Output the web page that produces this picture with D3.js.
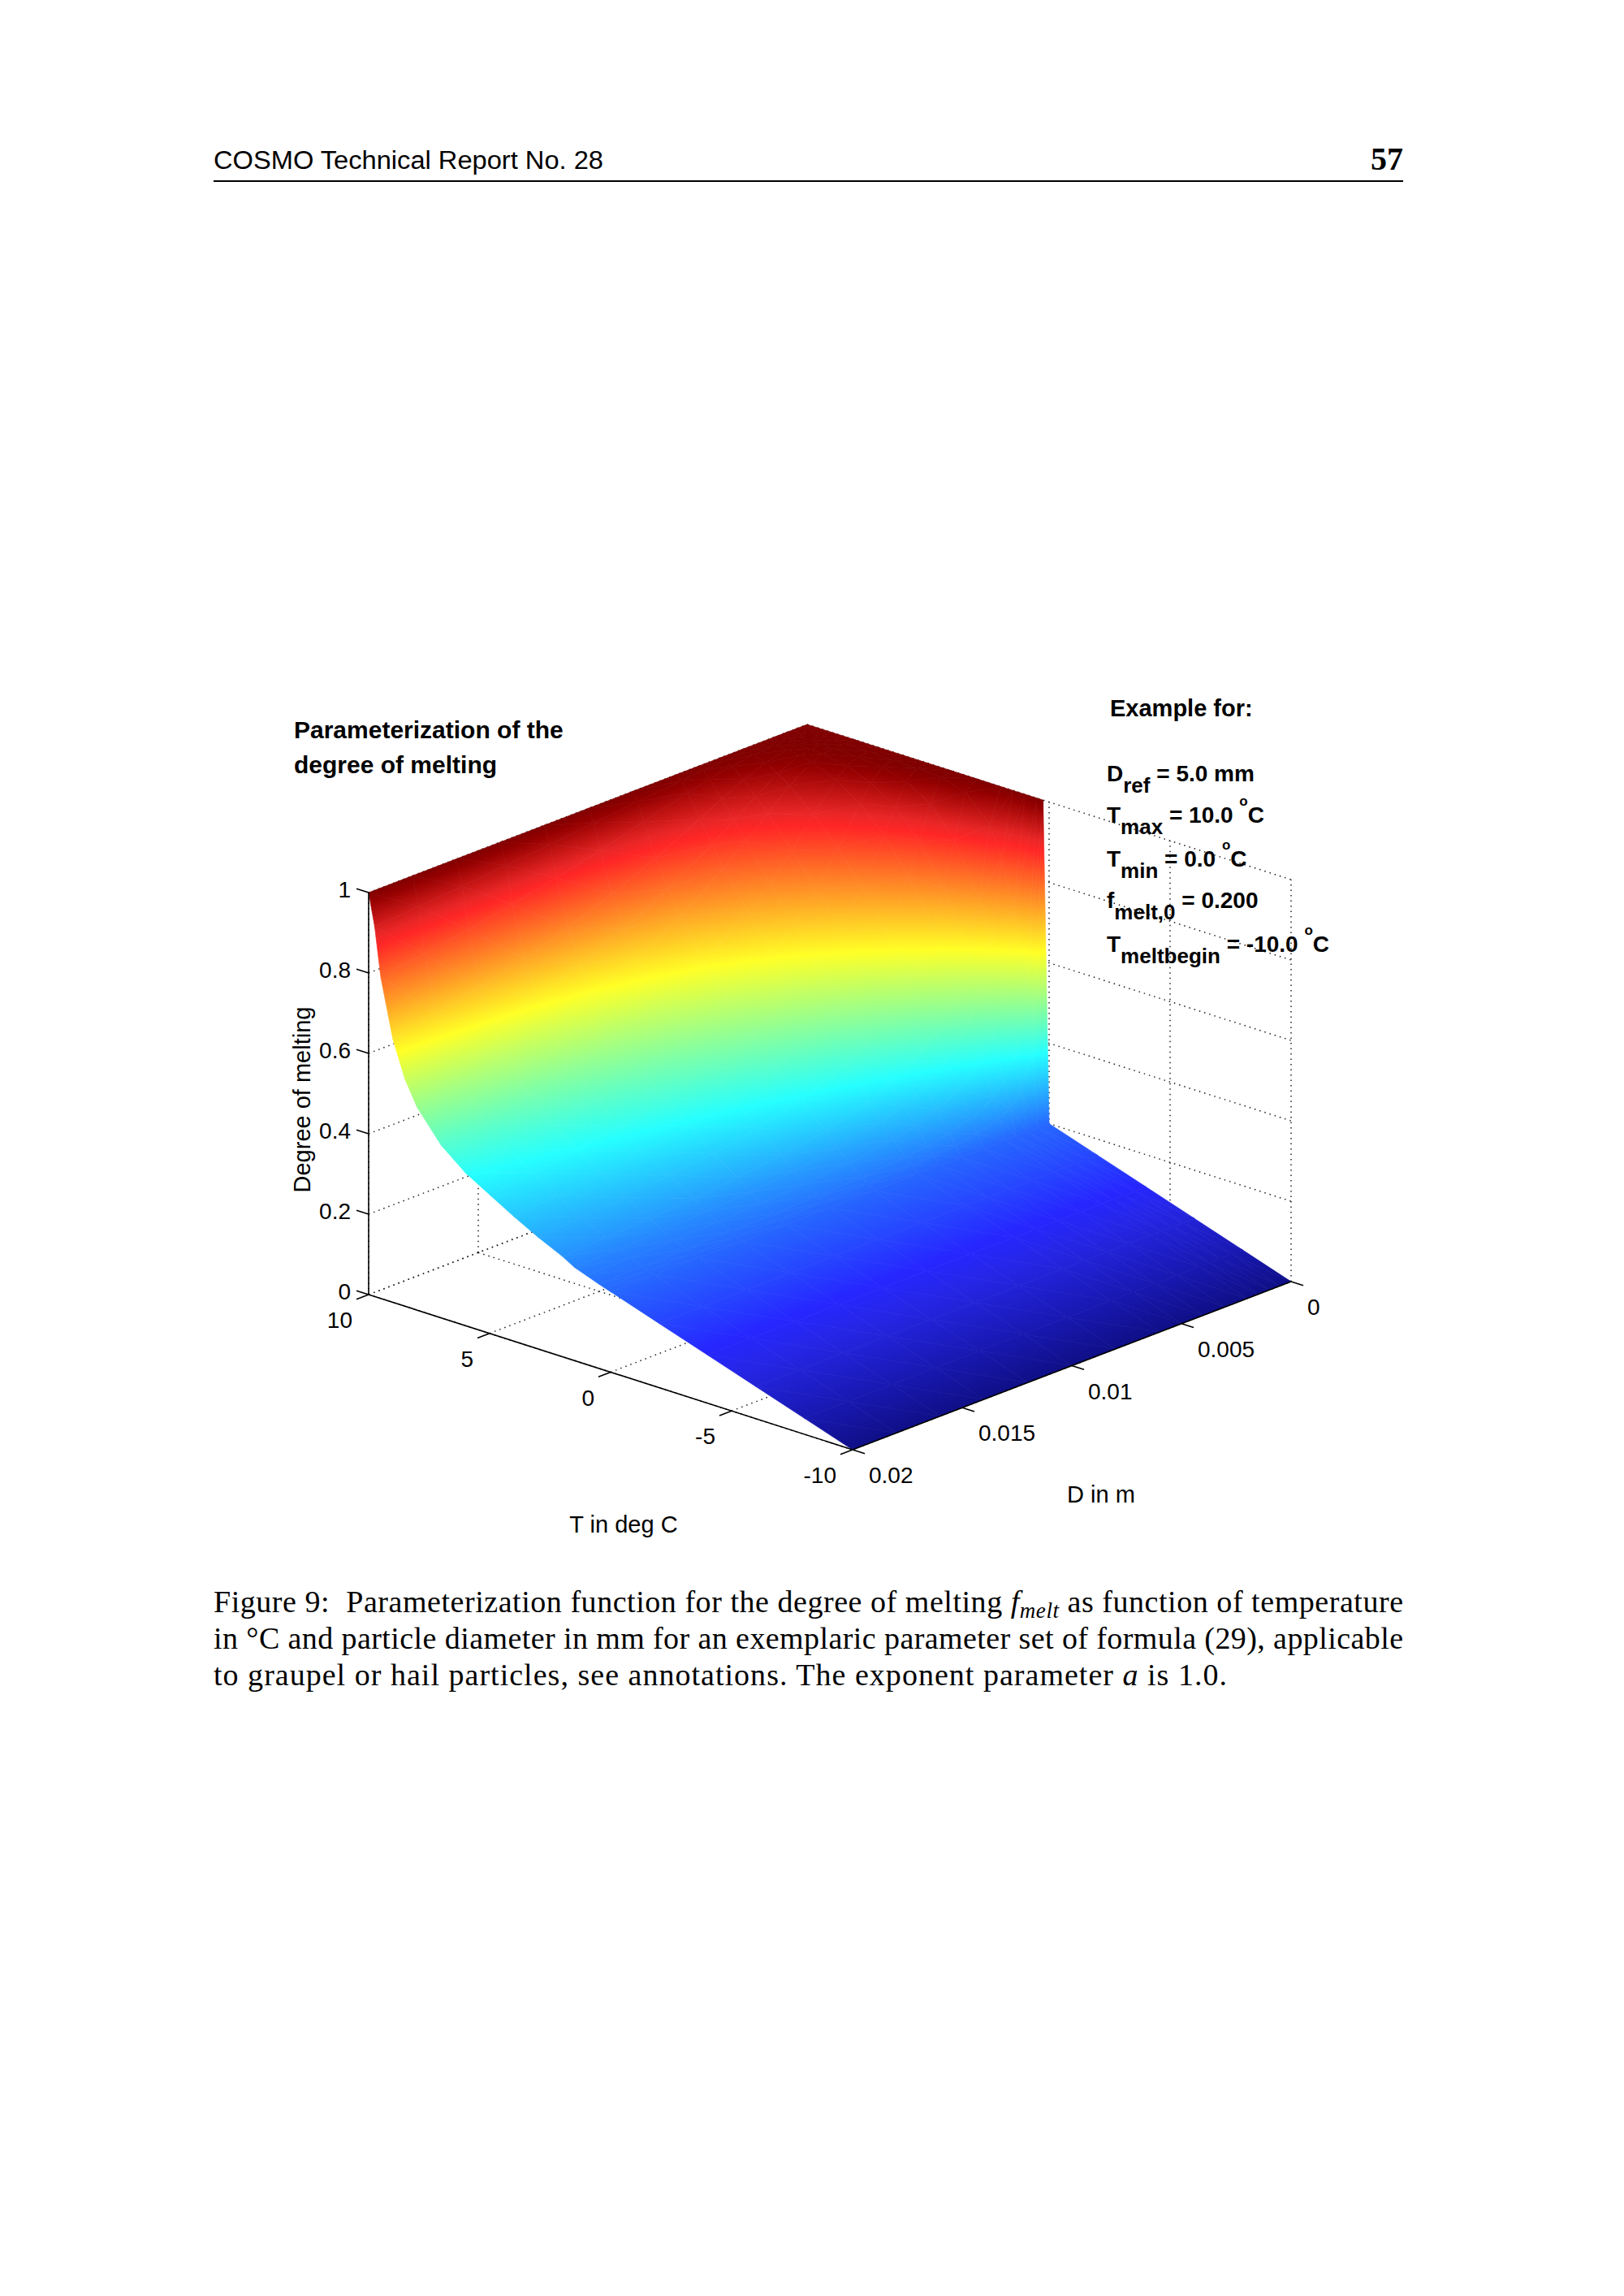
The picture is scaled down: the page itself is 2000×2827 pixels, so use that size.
<!DOCTYPE html>
<html lang="en">
<head>
<meta charset="UTF-8">
<title>Degree of melting</title>
<style>
  body { margin: 0; background: #fff; }
  svg text { font-family: "Liberation Sans", Arial, sans-serif; fill: #000; white-space: pre; }
  .grid line { stroke: #222; stroke-width: 1.5; stroke-dasharray: 1.5 5; }
  .axis line { stroke: #000; stroke-width: 1.6; }
  .tick { font-size: 28px; }
  .serif { font-family: "Liberation Serif", "DejaVu Serif", serif; }
</style>
</head>
<body>
<svg width="2000" height="2827"></svg>
<script src="https://d3js.org/d3.v7.min.js"></script>
<script>
// ---- data ----
const tempC = [-10, -8, -6, -4, -2, 0, 0.25, 0.5, 1, 1.5, 2, 3, 4, 5, 6, 7, 8, 8.5, 9, 9.5, 9.75, 10];
const diamM = [0, 0.0005, 0.001, 0.0015, 0.002, 0.003, 0.004, 0.005, 0.006, 0.008, 0.01, 0.012, 0.014, 0.016, 0.018, 0.02];
// degree of melting, one row per tempC value, one column per diamM value
const meltDeg = [
  [0, 0, 0, 0, 0, 0, 0, 0, 0, 0, 0, 0, 0, 0, 0, 0],
  [0.04, 0.04, 0.04, 0.04, 0.04, 0.04, 0.04, 0.04, 0.04, 0.04, 0.04, 0.04, 0.04, 0.04, 0.04, 0.04],
  [0.08, 0.08, 0.08, 0.08, 0.08, 0.08, 0.08, 0.08, 0.08, 0.08, 0.08, 0.08, 0.08, 0.08, 0.08, 0.08],
  [0.12, 0.12, 0.12, 0.12, 0.12, 0.12, 0.12, 0.12, 0.12, 0.12, 0.12, 0.12, 0.12, 0.12, 0.12, 0.12],
  [0.16, 0.16, 0.16, 0.16, 0.16, 0.16, 0.16, 0.16, 0.16, 0.16, 0.16, 0.16, 0.16, 0.16, 0.16, 0.16],
  [0.2, 0.2, 0.2, 0.2, 0.2, 0.2, 0.2, 0.2, 0.2, 0.2, 0.2, 0.2, 0.2, 0.2, 0.2, 0.2],
  [1, 0.379, 0.295, 0.265, 0.249, 0.233, 0.225, 0.220, 0.217, 0.213, 0.210, 0.208, 0.207, 0.206, 0.206, 0.205],
  [1, 0.521, 0.381, 0.326, 0.296, 0.266, 0.250, 0.240, 0.233, 0.225, 0.220, 0.217, 0.215, 0.213, 0.211, 0.210],
  [1, 0.721, 0.528, 0.437, 0.385, 0.329, 0.299, 0.280, 0.267, 0.251, 0.241, 0.234, 0.230, 0.226, 0.223, 0.221],
  [1, 0.842, 0.645, 0.535, 0.467, 0.390, 0.347, 0.320, 0.301, 0.277, 0.262, 0.252, 0.245, 0.240, 0.235, 0.232],
  [1, 0.915, 0.740, 0.623, 0.546, 0.453, 0.401, 0.366, 0.342, 0.310, 0.291, 0.278, 0.268, 0.261, 0.255, 0.250],
  [1, 0.977, 0.868, 0.759, 0.676, 0.565, 0.495, 0.448, 0.414, 0.369, 0.340, 0.319, 0.306, 0.294, 0.285, 0.278],
  [1, 0.995, 0.939, 0.857, 0.781, 0.666, 0.586, 0.530, 0.487, 0.431, 0.392, 0.366, 0.346, 0.332, 0.320, 0.310],
  [1, 0.999, 0.976, 0.923, 0.863, 0.755, 0.673, 0.611, 0.563, 0.495, 0.449, 0.417, 0.392, 0.373, 0.358, 0.345],
  [1, 1, 0.992, 0.963, 0.921, 0.830, 0.752, 0.688, 0.636, 0.560, 0.507, 0.468, 0.437, 0.414, 0.396, 0.380],
  [1, 1, 0.998, 0.986, 0.962, 0.896, 0.828, 0.768, 0.717, 0.636, 0.577, 0.533, 0.498, 0.470, 0.447, 0.429],
  [1, 1, 1, 0.996, 0.987, 0.949, 0.901, 0.852, 0.807, 0.729, 0.669, 0.622, 0.584, 0.552, 0.526, 0.505],
  [1, 1, 1, 0.999, 0.994, 0.970, 0.934, 0.895, 0.856, 0.787, 0.729, 0.683, 0.645, 0.614, 0.588, 0.565],
  [1, 1, 1, 1, 0.998, 0.987, 0.965, 0.939, 0.910, 0.854, 0.806, 0.765, 0.730, 0.701, 0.676, 0.655],
  [1, 1, 1, 1, 1, 0.997, 0.990, 0.979, 0.965, 0.935, 0.905, 0.878, 0.855, 0.834, 0.816, 0.800],
  [1, 1, 1, 1, 1, 1, 0.998, 0.995, 0.991, 0.980, 0.969, 0.957, 0.947, 0.937, 0.928, 0.920],
  [1, 1, 1, 1, 1, 1, 1, 1, 1, 1, 1, 1, 1, 1, 1, 1]
];
const tempTicks = [10, 5, 0, -5, -10];
const diamTicks = [0, 0.005, 0.01, 0.015, 0.02];
const meltTicks = [0, 0.2, 0.4, 0.6, 0.8, 1];
const notes = [
  { main: "D", sub: "ref", rest: " = 5.0 mm", deg: false },
  { main: "T", sub: "max", rest: " = 10.0 ", deg: true },
  { main: "T", sub: "min", rest: " = 0.0 ", deg: true },
  { main: "f", sub: "melt,0", rest: " = 0.200", deg: false },
  { main: "T", sub: "meltbegin", rest: " = -10.0 ", deg: true }
];

const svg = d3.select("svg");

// ---- page header ----
svg.append("text").attr("x", 263).attr("y", 208)
  .attr("font-family", "DejaVu Sans").attr("font-size", 31)
  .attr("textLength", 480).attr("lengthAdjust", "spacingAndGlyphs")
  .text("COSMO Technical Report No. 28");
svg.append("text").attr("class", "serif").attr("x", 1728).attr("y", 209)
  .attr("text-anchor", "end").attr("font-size", 40).attr("font-weight", "bold")
  .text("57");
svg.append("line").attr("x1", 263).attr("x2", 1728).attr("y1", 223).attr("y2", 223)
  .attr("stroke", "#000").attr("stroke-width", 2);

// ---- oblique projection of the 3-D box ----
const origin = { x: 454, y: 1594 };   // T = 10, D = 0.02, f = 0
const tVec = { x: 596, y: 191 };      // T from 10 to -10
const dVec = { x: 540, y: -207 };     // D from 0.02 to 0
const tScale = d3.scaleLinear().domain([10, -10]).range([0, 1]);
const dScale = d3.scaleLinear().domain([0.02, 0]).range([0, 1]);
const zScale = d3.scaleLinear().domain([0, 1]).range([0, 495]);

function project(t, d, z) {
  const a = tScale(t), b = dScale(d);
  return [origin.x + a * tVec.x + b * dVec.x, origin.y + a * tVec.y + b * dVec.y - zScale(z)];
}

// matlab jet; the dense mesh leaves white gaps, so mid values read lighter
function jet(v) {
  const c = x => Math.max(0, Math.min(1, x));
  const r = c(1.5 - Math.abs(4 * v - 3)), g = c(1.5 - Math.abs(4 * v - 2)), b = c(1.5 - Math.abs(4 * v - 1));
  const w = v > 0.9 ? 0.15 * c(1 - (v - 0.9) / 0.08) : v < 0.1 ? 0.06 + 0.9 * v : 0.15;
  return d3.interpolateRgb(d3.rgb(r * 255, g * 255, b * 255), "#fff")(w);
}

// ---- dotted grid on the back planes and floor ----
const grid = svg.append("g").attr("class", "grid");
const segs = [];
tempTicks.forEach(t => {
  segs.push([project(t, 0.02, 0), project(t, 0, 0)]);
  segs.push([project(t, 0, 0), project(t, 0, 1)]);
});
diamTicks.forEach(d => {
  segs.push([project(10, d, 0), project(-10, d, 0)]);
  segs.push([project(10, d, 0), project(10, d, 1)]);
});
meltTicks.forEach(z => {
  segs.push([project(10, 0.02, z), project(10, 0, z)]);
  segs.push([project(10, 0, z), project(-10, 0, z)]);
});
grid.selectAll("line").data(segs).join("line")
  .attr("x1", s => s[0][0]).attr("y1", s => s[0][1])
  .attr("x2", s => s[1][0]).attr("y2", s => s[1][1]);

// ---- surface: triangles sorted back to front, each shaded with a gradient ----
const defs = svg.append("defs");
const tris = [];
for (let i = 0; i < tempC.length - 1; i++) {
  for (let j = 0; j < diamM.length - 1; j++) {
    const depth = project((tempC[i] + tempC[i + 1]) / 2, (diamM[j] + diamM[j + 1]) / 2, 0)[1];
    const c = [[i, j], [i + 1, j], [i + 1, j + 1], [i, j + 1]].map(([a, b]) => ({
      p: project(tempC[a], diamM[b], meltDeg[a][b]), v: meltDeg[a][b]
    }));
    tris.push({ depth, k: 0, c: [c[0], c[1], c[2]] });
    tris.push({ depth, k: 1, c: [c[0], c[2], c[3]] });
  }
}
tris.sort((a, b) => a.depth - b.depth || a.k - b.k);

const breaks = [0.1, 0.125, 0.375, 0.625, 0.875, 0.9, 0.98];
tris.forEach((tr, n) => {
  const [A, B, C] = tr.c;
  const vs = tr.c.map(q => q.v);
  const vmin = d3.min(vs), vmax = d3.max(vs);
  tr.fill = jet(d3.mean(vs));
  if (vmax - vmin < 0.002) return;
  const x1 = B.p[0] - A.p[0], y1 = B.p[1] - A.p[1], x2 = C.p[0] - A.p[0], y2 = C.p[1] - A.p[1];
  const dv1 = B.v - A.v, dv2 = C.v - A.v;
  const det = x1 * y2 - y1 * x2;
  if (Math.abs(det) < 0.01) return;
  const ga = (dv1 * y2 - y1 * dv2) / det, gb = (x1 * dv2 - dv1 * x2) / det;
  const g2 = ga * ga + gb * gb;
  if (g2 < 1e-14) return;
  const at = v => [A.p[0] + (v - A.v) * ga / g2, A.p[1] + (v - A.v) * gb / g2];
  const p1 = at(vmin), p2 = at(vmax);
  const lg = defs.append("linearGradient").attr("id", "s" + n)
    .attr("gradientUnits", "userSpaceOnUse")
    .attr("x1", p1[0]).attr("y1", p1[1]).attr("x2", p2[0]).attr("y2", p2[1]);
  const stops = [vmin, ...breaks.filter(b => b > vmin && b < vmax), vmax];
  stops.forEach(v => lg.append("stop")
    .attr("offset", (v - vmin) / (vmax - vmin)).attr("stop-color", jet(v)));
  tr.fill = `url(#s${n})`;
});

svg.append("g").selectAll("path").data(tris).join("path")
  .attr("d", tr => "M" + tr.c.map(q => q.p.join(",")).join("L") + "Z")
  .attr("fill", tr => tr.fill)
  .attr("stroke", tr => tr.fill)
  .attr("stroke-width", 0.7)
  .attr("stroke-linejoin", "round");

// ---- solid axes with ticks and labels ----
const axis = svg.append("g").attr("class", "axis");
const axisSegs = [
  [project(10, 0.02, 0), project(10, 0.02, 1)],
  [project(10, 0.02, 0), project(-10, 0.02, 0)],
  [project(-10, 0.02, 0), project(-10, 0, 0)]
];
meltTicks.forEach(z => { const p = project(10, 0.02, z); axisSegs.push([p, [p[0] - 15, p[1] - 4.8]]); });
tempTicks.forEach(t => { const p = project(t, 0.02, 0); axisSegs.push([p, [p[0] - 15, p[1] + 5.8]]); });
diamTicks.forEach(d => { const p = project(-10, d, 0); axisSegs.push([p, [p[0] + 15, p[1] + 4.8]]); });
axis.selectAll("line").data(axisSegs).join("line")
  .attr("x1", s => s[0][0]).attr("y1", s => s[0][1])
  .attr("x2", s => s[1][0]).attr("y2", s => s[1][1]);

svg.append("g").selectAll("text").data(meltTicks).join("text").attr("class", "tick")
  .attr("x", z => project(10, 0.02, z)[0] - 22)
  .attr("y", z => project(10, 0.02, z)[1] + 6)
  .attr("text-anchor", "end").text(z => String(z));
svg.append("g").selectAll("text").data(tempTicks).join("text").attr("class", "tick")
  .attr("x", t => project(t, 0.02, 0)[0] - 20)
  .attr("y", t => project(t, 0.02, 0)[1] + 41)
  .attr("text-anchor", "end").text(t => String(t));
svg.append("g").selectAll("text").data(diamTicks).join("text").attr("class", "tick")
  .attr("x", d => project(-10, d, 0)[0] + 20)
  .attr("y", d => project(-10, d, 0)[1] + 41)
  .text(d => String(d));

svg.append("text").attr("x", 768).attr("y", 1887).attr("font-size", 29)
  .attr("text-anchor", "middle").text("T in deg C");
svg.append("text").attr("x", 1356).attr("y", 1850).attr("font-size", 29)
  .attr("text-anchor", "middle").text("D in m");
svg.append("text").attr("transform", "translate(382,1354) rotate(-90)").attr("font-size", 29)
  .attr("text-anchor", "middle").text("Degree of melting");

// ---- titles and parameter notes ----
svg.append("text").attr("x", 362).attr("y", 909).attr("font-size", 30).attr("font-weight", "bold")
  .text("Parameterization of the");
svg.append("text").attr("x", 362).attr("y", 952).attr("font-size", 30).attr("font-weight", "bold")
  .text("degree of melting");
svg.append("text").attr("x", 1367).attr("y", 882).attr("font-size", 29).attr("font-weight", "bold")
  .text("Example for:");

const noteY = [962, 1013, 1067, 1118, 1172];
notes.forEach((nt, k) => {
  const t = svg.append("text").attr("x", 1363).attr("y", noteY[k])
    .attr("font-size", 28).attr("font-weight", "bold");
  t.append("tspan").text(nt.main);
  t.append("tspan").attr("dy", 14).attr("font-size", 26).text(nt.sub);
  t.append("tspan").attr("dy", -14).text(nt.rest);
  if (nt.deg) {
    t.append("tspan").attr("dy", -21).attr("font-size", 17).text("o");
    t.append("tspan").attr("dy", 21).text("C");
  }
});

// ---- figure caption ----
const cap = svg.append("g").attr("font-size", 38);
const c1 = cap.append("text").attr("class", "serif").attr("x", 263).attr("y", 1985)
  .attr("textLength", 1465).attr("lengthAdjust", "spacing");
c1.append("tspan").text("Figure 9:  Parameterization function for the degree of melting ");
c1.append("tspan").attr("font-style", "italic").text("f");
c1.append("tspan").attr("font-style", "italic").attr("font-size", 27).attr("dy", 7).text("melt");
c1.append("tspan").attr("dy", -7).text(" as function of temperature");
cap.append("text").attr("class", "serif").attr("x", 263).attr("y", 2030)
  .attr("textLength", 1465).attr("lengthAdjust", "spacing")
  .text("in °C and particle diameter in mm for an exemplaric parameter set of formula (29), applicable");
const c3 = cap.append("text").attr("class", "serif").attr("x", 263).attr("y", 2075)
  .attr("textLength", 1248).attr("lengthAdjust", "spacing");
c3.append("tspan").text("to graupel or hail particles, see annotations. The exponent parameter ");
c3.append("tspan").attr("font-style", "italic").text("a");
c3.append("tspan").text(" is 1.0.");
</script>
</body>
</html>
